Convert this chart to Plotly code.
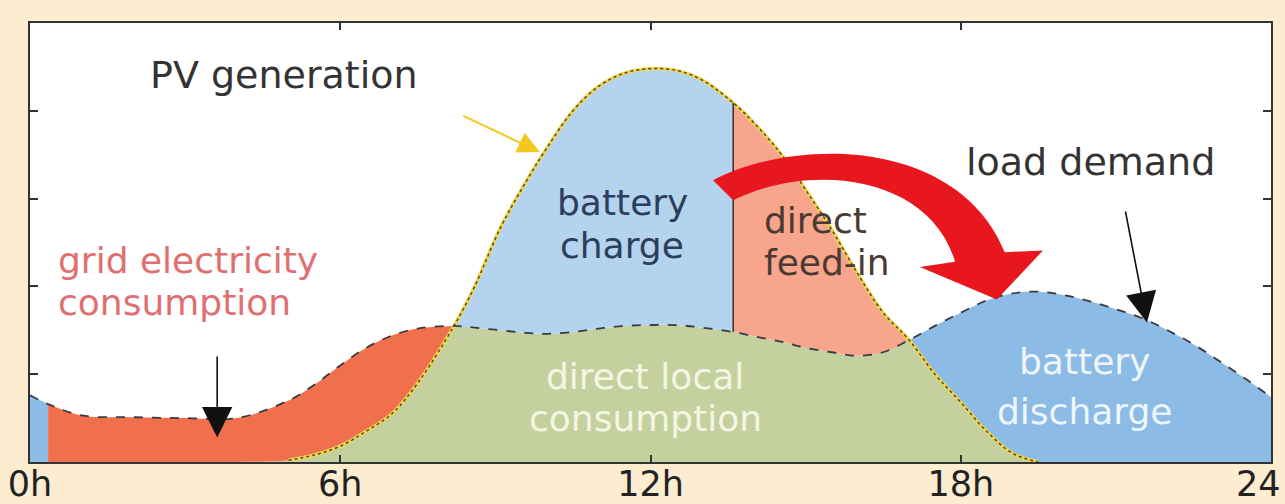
import plotly.graph_objects as go

# ---- data (hours, load demand, PV generation) ----
hours = [0, 0.35, 1, 2, 3, 4, 5, 5.5, 6, 6.5, 7, 7.5, 8.2, 8.6, 9.1, 9.6, 10, 10.5, 11, 11.5,
         12, 12.5, 13, 13.6, 14.1, 14.6, 15, 15.5, 16, 16.5, 17, 17.5, 18, 18.5, 19, 19.5,
         20, 20.5, 21, 21.5, 22, 22.5, 23, 23.5, 24]
load = [0.76, 0.66, 0.53, 0.51, 0.50, 0.50, 0.70, 0.88, 1.10, 1.30, 1.44, 1.52, 1.55, 1.53, 1.50, 1.47,
        1.46, 1.48, 1.52, 1.55, 1.56, 1.56, 1.53, 1.48, 1.42, 1.36, 1.30, 1.25, 1.21, 1.25,
        1.39, 1.55, 1.70, 1.84, 1.92, 1.94, 1.90, 1.83, 1.74, 1.64, 1.50, 1.34, 1.15, 0.95, 0.74]
pv = [0, 0, 0, 0, 0, 0, 0.02, 0.08, 0.18, 0.35, 0.55, 0.90, 1.55, 2.0, 2.67, 3.2,
      3.58, 4.0, 4.28, 4.43, 4.48, 4.46, 4.35, 4.09, 3.80, 3.45, 3.10, 2.65, 2.15, 1.70,
      1.39, 1.00, 0.68, 0.35, 0.10, 0.0, 0, 0, 0, 0, 0, 0, 0, 0, 0]
tick_vals = [0, 6, 12, 18, 24]
tick_text = ["0h", "6h", "12h", "18h", ""]
end_label = "24"   # right-edge tick label, as visible in the original

# phase boundaries (hours)
t_grid_start, t_cross_am, t_split, t_cross_pm = 0.35, 8.2, 13.6, 17.0

C_GRID = "#f0704e"
C_LOCAL = "#c4d19e"
C_CHARGE = "#b4d3ee"
C_FEED = "#f7a58c"
C_DIS = "#8cbbe6"
FONT = "DejaVu Sans"
FS = 38
FS2 = 36
TICK_FS = 35

local = [min(p, l) for p, l in zip(pv, load)]


def seg(a, b):
    return [i for i, h in enumerate(hours) if a <= h <= b]


fig = go.Figure()

# direct local consumption
fig.add_trace(go.Scatter(x=hours, y=local, mode="lines", line=dict(width=0, shape="spline"),
                         fill="tozeroy", fillcolor=C_LOCAL, hoverinfo="skip"))


def band(idx, lower, upper, color):
    xs = [hours[i] for i in idx]
    fig.add_trace(go.Scatter(x=xs, y=[lower[i] for i in idx], mode="lines",
                             line=dict(width=0, shape="spline"), hoverinfo="skip"))
    fig.add_trace(go.Scatter(x=xs, y=[upper[i] for i in idx], mode="lines",
                             line=dict(width=0, shape="spline"), fill="tonexty",
                             fillcolor=color, hoverinfo="skip"))


band(seg(0, t_grid_start), local, load, C_DIS)
band(seg(t_grid_start, t_cross_am), local, load, C_GRID)
band(seg(t_cross_am, t_split), load, pv, C_CHARGE)
band(seg(t_split, t_cross_pm), load, pv, C_FEED)
band(seg(t_cross_pm, 24), local, load, C_DIS)

# PV generation outline (yellow halo + dark dots)
pv_idx = seg(4.8, 19.6)
fig.add_trace(go.Scatter(x=[hours[i] for i in pv_idx], y=[pv[i] for i in pv_idx], mode="lines",
                         line=dict(color="#f2d44a", width=3.5, shape="spline"), hoverinfo="skip"))
fig.add_trace(go.Scatter(x=[hours[i] for i in pv_idx], y=[pv[i] for i in pv_idx], mode="lines",
                         line=dict(color="#4a4a3a", width=1.5, dash="dot", shape="spline"),
                         hoverinfo="skip"))
# load demand line
fig.add_trace(go.Scatter(x=hours, y=load, mode="lines",
                         line=dict(color="#3a3a40", width=1.8, dash="dash", shape="spline"),
                         hoverinfo="skip"))
# split line between charge and feed-in
k = hours.index(t_split)
fig.add_trace(go.Scatter(x=[t_split, t_split], y=[load[k], pv[k]], mode="lines",
                         line=dict(color="#333333", width=1.5), hoverinfo="skip"))

# red curved arrow (battery shift)
red_path = ("M 13.21,3.21 C 14.89,3.72 17.98,3.67 18.85,2.39 "
            "L 19.59,2.41 L 18.70,1.85 L 17.21,2.22 L 17.89,2.28 "
            "C 17.40,3.27 15.08,3.42 13.60,2.98 Z")
fig.add_shape(type="path", path=red_path, xref="x", yref="y", fillcolor="#e8161d",
              line=dict(width=0), layer="above")


def label(x, y, text, color, xanchor="center", size=FS2):
    return dict(x=x, y=y, text=text, showarrow=False, xanchor=xanchor,
                font=dict(family=FONT, size=size, color=color))


ann = [
    label(4.91, 4.41, "PV generation", "#333333", size=FS),
    label(20.5, 3.42, "load demand", "#333333", size=FS),
    label(0.5, 2.30, "grid electricity", "#e07070", "left"),
    label(0.5, 1.82, "consumption", "#e07070", "left"),
    label(11.45, 2.95, "battery", "#2c3e5c"),
    label(11.45, 2.47, "charge", "#2c3e5c"),
    label(14.16, 2.75, "direct", "#4a3a32", "left"),
    label(14.16, 2.27, "feed-in", "#4a3a32", "left"),
    label(11.9, 0.97, "direct local", "#f5f5e4"),
    label(11.9, 0.49, "consumption", "#f5f5e4"),
    label(20.4, 1.15, "battery", "#eef5fb"),
    label(20.4, 0.58, "discharge", "#eef5fb"),
]
ann.append(dict(x=1, y=0, xref="paper", yref="paper", text=end_label, showarrow=False,
                xanchor="right", yanchor="middle", xshift=12, yshift=-22,
                font=dict(family=FONT, size=TICK_FS, color="#222222")))
ann.append(dict(x=9.86, y=3.53, ax=8.35, ay=3.95, axref="x", ayref="y", text="",
                showarrow=True, arrowhead=2, arrowsize=2.2, arrowwidth=2, arrowcolor="#f2c81e"))
ann.append(dict(x=3.62, y=0.28, ax=3.62, ay=1.22, axref="x", ayref="y", text="",
                showarrow=True, arrowhead=2, arrowsize=3.8, arrowwidth=1.6, arrowcolor="#111111"))
ann.append(dict(x=21.6, y=1.59, ax=21.18, ay=2.87, axref="x", ayref="y", text="",
                showarrow=True, arrowhead=2, arrowsize=3.8, arrowwidth=1.6, arrowcolor="#111111"))

fig.update_layout(
    width=1285, height=504,
    margin=dict(l=30, r=14, t=23, b=42, autoexpand=False),
    paper_bgcolor="#fcecd0",
    plot_bgcolor="#ffffff",
    showlegend=False,
    annotations=ann,
    font=dict(family=FONT, color="#333333"),
)
fig.update_xaxes(range=[0, 24], tickvals=tick_vals, ticktext=tick_text, ticks="inside",
                 ticklen=7, tickwidth=1.5, tickcolor="#333333", showline=True, linewidth=2,
                 linecolor="#333333", mirror="ticks", showgrid=False, zeroline=False,
                 tickfont=dict(family=FONT, size=TICK_FS, color="#222222"), automargin=False,
                 ticklabelstandoff=-10)
fig.update_yaxes(range=[0, 5], tickvals=[1, 2, 3, 4], showticklabels=False, ticks="inside",
                 ticklen=8, tickwidth=1.5, tickcolor="#333333", showline=True, linewidth=2,
                 linecolor="#333333", mirror="ticks", showgrid=False, zeroline=False,
                 automargin=False)

fig.write_html("out.html", config={"displayModeBar": False},
               post_script="document.body.style.margin='0';document.body.style.background='#fcecd0';")
